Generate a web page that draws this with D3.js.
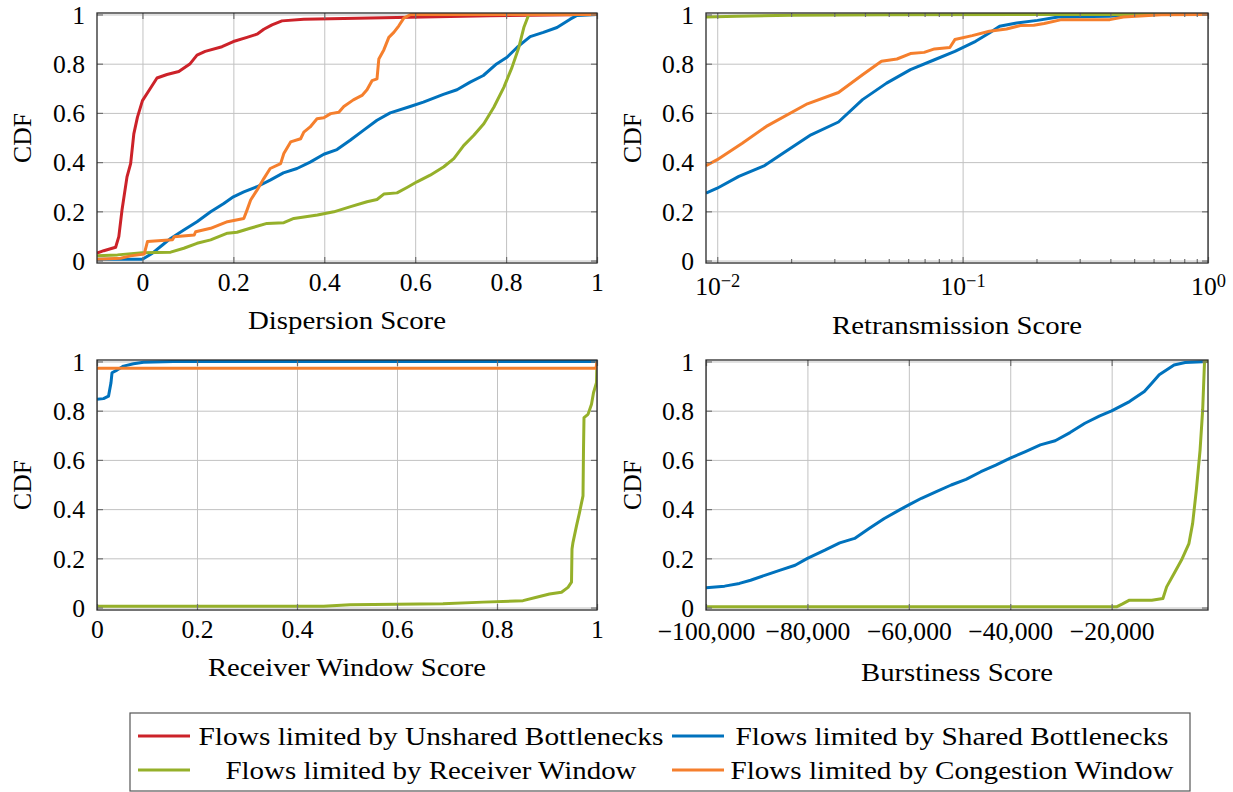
<!DOCTYPE html>
<html><head><meta charset="utf-8">
<script src="https://cdn.jsdelivr.net/npm/d3@7"></script>
<style>
body{margin:0;background:#fff}
svg text{font-family:"Liberation Serif","Times New Roman","DejaVu Serif",serif;fill:#000}
</style>
</head><body>
<svg id="c" width="1233" height="792"></svg>
<script>
// ---------------- data ----------------
const seriesNames = ["Flows limited by Unshared Bottlenecks","Flows limited by Shared Bottlenecks","Flows limited by Receiver Window","Flows limited by Congestion Window"];
const yTicks = [0,0.2,0.4,0.6,0.8,1];
const dispTicks = [0,0.2,0.4,0.6,0.8,1];
const retransTicks = [0.01,0.1,1];
const recvTicks = [0,0.2,0.4,0.6,0.8,1];
const burstTicks = [-100000,-80000,-60000,-40000,-20000];

// Dispersion score
const dispUnsharedX = [-0.1,-0.085,-0.059,-0.052,-0.045,-0.034,-0.026,-0.019,-0.011,0,0.014,0.032,0.054,0.08,0.105,0.12,0.138,0.175,0.2,0.23,0.252,0.267,0.285,0.307,0.355,0.472,0.618,0.765,0.85,1];
const dispUnsharedY = [0.03,0.04,0.054,0.097,0.205,0.34,0.394,0.515,0.583,0.65,0.69,0.742,0.756,0.768,0.8,0.835,0.85,0.869,0.89,0.907,0.92,0.94,0.958,0.974,0.981,0.985,0.99,0.995,0.997,1];
const dispSharedX = [-0.1,0,0.022,0.044,0.062,0.091,0.12,0.15,0.179,0.2,0.223,0.252,0.281,0.31,0.34,0.369,0.399,0.428,0.457,0.486,0.516,0.545,0.589,0.618,0.662,0.692,0.721,0.75,0.779,0.802,0.824,0.853,0.882,0.912,0.941,0.956,1];
const dispSharedY = [0.005,0.005,0.03,0.063,0.09,0.124,0.158,0.198,0.232,0.259,0.279,0.3,0.327,0.356,0.374,0.4,0.432,0.451,0.489,0.529,0.57,0.6,0.626,0.644,0.675,0.694,0.725,0.752,0.799,0.826,0.866,0.91,0.927,0.947,0.981,0.996,1];
const dispRecvX = [-0.1,-0.055,0,0.062,0.091,0.12,0.15,0.187,0.208,0.237,0.274,0.311,0.333,0.385,0.421,0.458,0.494,0.516,0.531,0.56,0.582,0.604,0.633,0.663,0.685,0.707,0.729,0.751,0.773,0.795,0.813,0.828,0.839,0.85,1];
const dispRecvY = [0.019,0.023,0.032,0.034,0.05,0.07,0.084,0.111,0.115,0.131,0.151,0.154,0.171,0.185,0.198,0.219,0.239,0.248,0.27,0.275,0.297,0.32,0.347,0.381,0.414,0.468,0.509,0.556,0.623,0.704,0.785,0.866,0.947,1,1];
const dispCongX = [-0.1,-0.048,-0.026,0.004,0.011,0.066,0.07,0.114,0.117,0.15,0.187,0.223,0.23,0.238,0.252,0.267,0.281,0.304,0.311,0.326,0.348,0.355,0.369,0.384,0.399,0.414,0.432,0.443,0.464,0.483,0.494,0.505,0.516,0.52,0.531,0.542,0.553,0.564,0.575,0.59,1];
const dispCongY = [0.005,0.009,0.019,0.027,0.077,0.084,0.097,0.104,0.117,0.131,0.158,0.171,0.205,0.246,0.286,0.333,0.374,0.394,0.435,0.482,0.495,0.522,0.543,0.576,0.58,0.597,0.603,0.626,0.653,0.671,0.694,0.731,0.738,0.819,0.856,0.907,0.927,0.954,0.985,1,1];

// Retransmission score
const retSharedX = [0.009,0.01,0.01225,0.0156,0.0186,0.0241,0.0312,0.0391,0.049,0.0613,0.0768,0.093,0.113,0.1285,0.1415,0.166,0.2018,0.245,0.398,0.497,1];
const retSharedY = [0.274,0.294,0.342,0.386,0.437,0.511,0.563,0.654,0.721,0.776,0.816,0.85,0.891,0.925,0.952,0.965,0.976,0.99,0.993,1,1];
const retRecvX = [0.009,0.012,0.02,0.05,1];
const retRecvY = [0.99,0.993,0.997,0.999,1];
const retCongX = [0.009,0.01,0.01265,0.01585,0.0233,0.0312,0.0391,0.0467,0.054,0.0613,0.0697,0.0768,0.0887,0.093,0.1094,0.1285,0.151,0.172,0.195,0.215,0.253,0.398,0.452,0.645,1];
const retCongY = [0.385,0.41,0.477,0.545,0.637,0.683,0.755,0.81,0.819,0.841,0.846,0.86,0.866,0.898,0.914,0.932,0.941,0.955,0.956,0.963,0.979,0.979,0.99,0.999,1];

// Receiver window score
const rwSharedX = [0,0.013,0.023,0.028,0.03,0.04,0.053,0.073,0.093,0.153,1];
const rwSharedY = [0.846,0.849,0.859,0.914,0.954,0.965,0.981,0.991,0.997,1,1];
const rwRecvX = [0,0.453,0.506,0.692,0.772,0.852,0.879,0.905,0.929,0.942,0.949,0.95,0.952,0.959,0.965,0.972,0.973,0.974,0.982,0.989,0.993,0.999,1];
const rwRecvY = [0.005,0.005,0.011,0.015,0.022,0.028,0.042,0.055,0.062,0.082,0.103,0.238,0.265,0.332,0.386,0.454,0.643,0.772,0.785,0.826,0.873,0.914,1];
const rwCongX = [0,0.998,1];
const rwCongY = [0.972,0.972,1];

// Burstiness score
const burstSharedX = [-100000,-96337,-93407,-91209,-88278,-85348,-82418,-80000,-76557,-73626,-70696,-67766,-64835,-61905,-60000,-57509,-54579,-51648,-48718,-45788,-42857,-40000,-36996,-34066,-31136,-28205,-25275,-22344,-20000,-16484,-13553,-12088,-10623,-7692,-5495,-1000];
const burstSharedY = [0.08,0.087,0.098,0.111,0.132,0.152,0.172,0.2,0.233,0.263,0.281,0.322,0.362,0.396,0.417,0.444,0.471,0.498,0.521,0.552,0.579,0.607,0.634,0.661,0.678,0.711,0.749,0.779,0.799,0.837,0.878,0.912,0.946,0.986,0.996,1];
const burstRecvX = [-100000,-19048,-17949,-16484,-12088,-9890,-9158,-7692,-6227,-4762,-4029,-3297,-2564,-2051,-1685,-1000];
const burstRecvY = [0.003,0.003,0.014,0.03,0.03,0.037,0.084,0.138,0.193,0.26,0.342,0.478,0.64,0.803,1,1];

// ---------------- style ----------------
const colors = ["#CC2229","#0072BD","#95B02A","#F57F2D"];
const svg = d3.select("#c");
const FONT = '"Liberation Serif","Times New Roman","DejaVu Serif",serif';
// pick font size so that the digit label "0.8" is ~32px wide, whatever serif font resolved
const probe = svg.append("text").attr("font-size",100).style("font-family",FONT).text("0.8");
const FS = Math.max(18, Math.min(28, 100*32/probe.node().getComputedTextLength()));
probe.remove();
const zip = (xs, ys) => xs.map((v,i)=>[v, ys[i]]);

function styleText(sel){ sel.style("font-family",FONT).attr("font-size",FS).attr("fill","#000"); }

function panel(o){
  const g = svg.append("g");
  const x = (o.log ? d3.scaleLog() : d3.scaleLinear()).domain(o.xd).range([o.x0, o.x1]);
  const y = d3.scaleLinear().domain([-0.01, 1.006]).range([o.y1, o.y0]);
  const W = o.x1 - o.x0, H = o.y1 - o.y0;

  const gx = g.append("g").attr("transform",`translate(0,${o.y1})`)
    .call(d3.axisBottom(x).tickValues(o.xticks).tickSize(-H).tickFormat(""));
  const gy = g.append("g").attr("transform",`translate(${o.x0},0)`)
    .call(d3.axisLeft(y).tickValues(yTicks).tickSize(-W).tickFormat(""));
  [gx,gy].forEach(a=>{a.select(".domain").remove(); a.selectAll("line").attr("stroke","#c2c2c2").attr("stroke-width",1);});

  const id = "clip"+o.id;
  svg.append("clipPath").attr("id",id).append("rect").attr("x",o.x0).attr("y",o.y0).attr("width",W).attr("height",H);
  const line = d3.line().x(d=>x(d[0])).y(d=>y(d[1]));
  o.series.forEach(s=>{
    g.append("path").attr("d", line(zip(s.x, s.y))).attr("fill","none")
      .attr("stroke", colors[s.k]).attr("stroke-width",3).attr("stroke-linejoin","round")
      .attr("clip-path",`url(#${id})`);
  });

  const tickStyle = a => {a.select(".domain").remove(); a.selectAll("line").attr("stroke","#707070").attr("stroke-width",1.2);};
  const bx = g.append("g").attr("transform",`translate(0,${o.y1})`)
    .call(d3.axisBottom(x).tickValues(o.xticks).tickSize(-6).tickPadding(o.xpad).tickFormat(o.fmt));
  tickStyle(bx);
  styleText(bx.selectAll("text"));
  const tx = g.append("g").attr("transform",`translate(0,${o.y0})`)
    .call(d3.axisTop(x).tickValues(o.xticks).tickSize(-6).tickFormat(""));
  tickStyle(tx);
  if (o.minor){
    const mb = g.append("g").attr("transform",`translate(0,${o.y1})`)
      .call(d3.axisBottom(x).tickValues(o.minor).tickSize(-4).tickFormat(""));
    const mt = g.append("g").attr("transform",`translate(0,${o.y0})`)
      .call(d3.axisTop(x).tickValues(o.minor).tickSize(-4).tickFormat(""));
    tickStyle(mb); tickStyle(mt);
  }
  const ly = g.append("g").attr("transform",`translate(${o.x0},0)`)
    .call(d3.axisLeft(y).tickValues(yTicks).tickSize(-6).tickPadding(12).tickFormat(d3.format("~g")));
  tickStyle(ly);
  styleText(ly.selectAll("text"));
  ly.selectAll("text").attr("dy","0.34em");
  const ry = g.append("g").attr("transform",`translate(${o.x1},0)`)
    .call(d3.axisRight(y).tickValues(yTicks).tickSize(-6).tickFormat(""));
  tickStyle(ry);

  if (o.log){
    bx.selectAll("text").each(function(d){
      const t = d3.select(this); t.text("");
      t.append("tspan").text("10");
      t.append("tspan").attr("dy","-0.42em").attr("font-size",FS*0.72).text(String(Math.round(Math.log10(d))).replace("-","\u2212"));
    });
  }

  g.append("rect").attr("x",o.x0).attr("y",o.y0).attr("width",W).attr("height",H)
    .attr("fill","none").attr("stroke","#2a2a2a").attr("stroke-width",1.3);

  styleText(g.append("text").attr("transform",`translate(${o.ylx},${(o.y0+o.y1)/2}) rotate(-90)`)
    .attr("text-anchor","middle").attr("dy","0.35em").text("CDF"));
  styleText(g.append("text").attr("x",(o.x0+o.x1)/2).attr("y",o.titleY).attr("text-anchor","middle")
    .attr("textLength",o.titleW).attr("lengthAdjust","spacingAndGlyphs").text(o.title));
}

const minorLog = [];
[0.01,0.1].forEach(b=>{for(let m=2;m<=9;m++){minorLog.push(b*m);}});

panel({id:1, x0:97, x1:597, y0:13, y1:263, xd:[-0.1,1], xticks:dispTicks, fmt:d3.format("~g"), xpad:10,
  ylx:22, title:"Dispersion Score", titleY:329, titleW:198,
  series:[{k:0,x:dispUnsharedX,y:dispUnsharedY},{k:1,x:dispSharedX,y:dispSharedY},{k:2,x:dispRecvX,y:dispRecvY},{k:3,x:dispCongX,y:dispCongY}]});
panel({id:2, x0:706, x1:1208, y0:13, y1:263, xd:[0.009,1], log:true, xticks:retransTicks, minor:minorLog, fmt:d=>d, xpad:14,
  ylx:632, title:"Retransmission Score", titleY:334, titleW:250,
  series:[{k:1,x:retSharedX,y:retSharedY},{k:2,x:retRecvX,y:retRecvY},{k:3,x:retCongX,y:retCongY}]});
panel({id:3, x0:97, x1:597, y0:360, y1:610, xd:[0,1], xticks:recvTicks, fmt:d3.format("~g"), xpad:10,
  ylx:22, title:"Receiver Window Score", titleY:676, titleW:278,
  series:[{k:1,x:rwSharedX,y:rwSharedY},{k:2,x:rwRecvX,y:rwRecvY},{k:3,x:rwCongX,y:rwCongY}]});
panel({id:4, x0:706, x1:1208, y0:360, y1:610, xd:[-100000,-1000], xticks:burstTicks, fmt:d3.format(","), xpad:12,
  ylx:632, title:"Burstiness Score", titleY:681, titleW:192,
  series:[{k:1,x:burstSharedX,y:burstSharedY},{k:2,x:burstRecvX,y:burstRecvY}]});

// legend
const lg = svg.append("g");
lg.append("rect").attr("x",130).attr("y",713).attr("width",1060).attr("height",78)
  .attr("fill","#fff").attr("stroke","#555").attr("stroke-width",1.2);
const legPos = [{lx:138, tx:431, ty:736, w:465},{lx:672, tx:952, ty:736, w:433},{lx:138, tx:431, ty:770, w:411},{lx:672, tx:952, ty:770, w:443}];
seriesNames.forEach((n,i)=>{
  const p = legPos[i];
  lg.append("line").attr("x1",p.lx).attr("x2",p.lx+52).attr("y1",p.ty).attr("y2",p.ty)
    .attr("stroke",colors[i]).attr("stroke-width",3);
  styleText(lg.append("text").attr("x",p.tx).attr("y",p.ty+9).attr("text-anchor","middle")
    .attr("textLength",p.w).attr("lengthAdjust","spacingAndGlyphs").text(n));
});
</script>
</body></html>
